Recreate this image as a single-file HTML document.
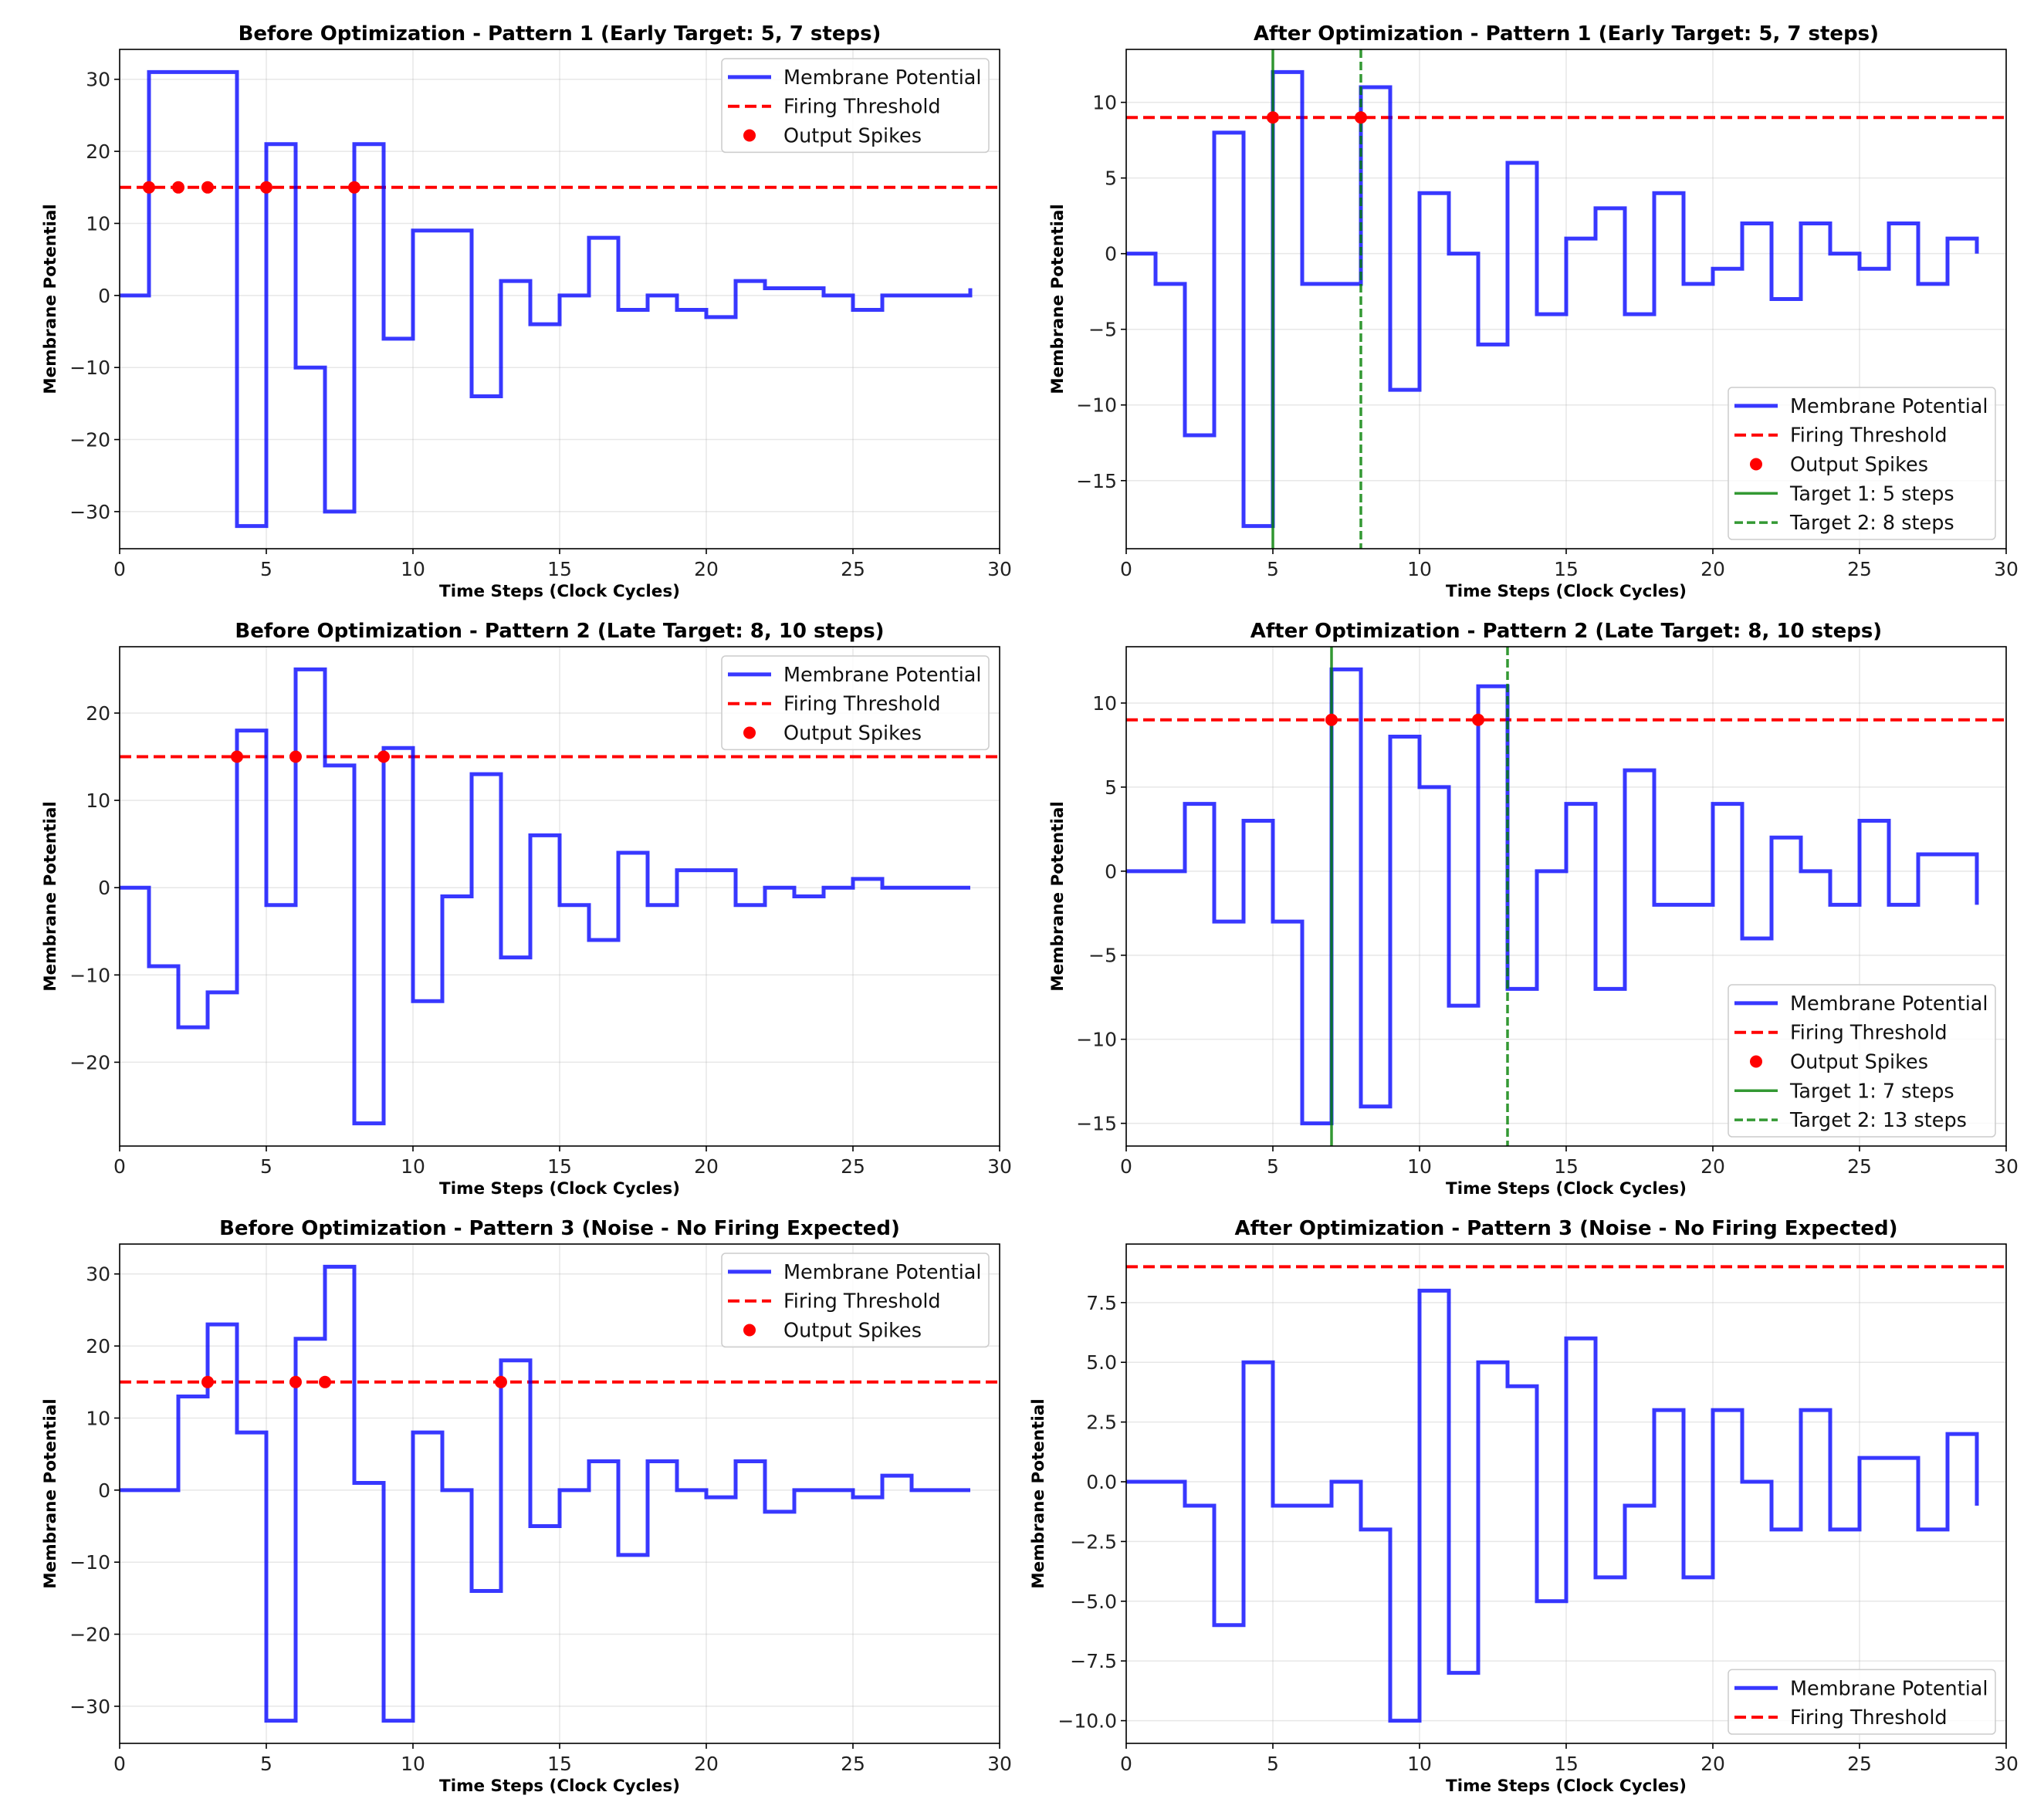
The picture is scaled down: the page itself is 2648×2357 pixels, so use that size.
<!DOCTYPE html>
<html><head><meta charset="utf-8"><style>
html,body{margin:0;padding:0;background:#fff}
svg{display:block;font-family:"DejaVu Sans","Liberation Sans",sans-serif}
</style></head><body>
<svg id="fig" width="2648" height="2357" viewBox="0 0 2648 2357" xmlns="http://www.w3.org/2000/svg"></svg>
<script>
const timeSteps = [...Array(30).keys()];
const p1Before = [0,31,31,31,-32,21,-10,-30,21,-6,9,9,-14,2,-4,0,8,-2,0,-2,-3,2,1,1,0,-2,0,0,0,1];
const p1After  = [0,-2,-12,8,-18,12,-2,-2,11,-9,4,0,-6,6,-4,1,3,-4,4,-2,-1,2,-3,2,0,-1,2,-2,1,0];
const p2Before = [0,-9,-16,-12,18,-2,25,14,-27,16,-13,-1,13,-8,6,-2,-6,4,-2,2,2,-2,0,-1,0,1,0,0,0,0];
const p2After  = [0,0,4,-3,3,-3,-15,12,-14,8,5,-8,11,-7,0,4,-7,6,-2,-2,4,-4,2,0,-2,3,-2,1,1,-2];
const p3Before = [0,0,13,23,8,-32,21,31,1,-32,8,0,-14,18,-5,0,4,-9,4,0,-1,4,-3,0,0,-1,2,0,0,0];
const p3After  = [0,0,-1,-6,5,-1,-1,0,-2,-10,8,-8,5,4,-5,6,-4,-1,3,-4,3,0,-2,3,-2,1,1,-2,2,-1];
const spikes1B = [1,2,3,5,8];
const spikes1A = [5,8];
const spikes2B = [4,6,9];
const spikes2A = [7,12];
const spikes3B = [3,6,7,13];
const spikes3A = [];
const targets1 = [5,8];
const targets2 = [7,13];
const thresholdsBefore = 15;
const thresholdsAfter = 9;
const yTicks1 = [-30,-20,-10,0,10,20,30];
const yTicks2 = [-15,-10,-5,0,5,10];
const yTicks3 = [-20,-10,0,10,20];
const yTicks6 = [-10,-7.5,-5,-2.5,0,2.5,5,7.5];
const xTicks = [0,5,10,15,20,25,30];

const NS="http://www.w3.org/2000/svg";
const svg=document.getElementById('fig');
function mk(tag,attrs,parent){const e=document.createElementNS(NS,tag);for(const k in attrs)e.setAttribute(k,attrs[k]);(parent||svg).appendChild(e);return e;}
function fmt(v,dec){let s=dec?v.toFixed(1):String(v);return s.replace('-','\u2212');}

const panels=[
 {title:"Before Optimization - Pattern 1 (Early Target: 5, 7 steps)",vals:p1Before,sp:spikes1B,th:thresholdsBefore,yt:yTicks1,tg:null,col:0,row:0,leg:'top',ylx:65},
 {title:"After Optimization - Pattern 1 (Early Target: 5, 7 steps)",vals:p1After,sp:spikes1A,th:thresholdsAfter,yt:yTicks2,tg:targets1,col:1,row:0,leg:'bottom',ylx:1370},
 {title:"Before Optimization - Pattern 2 (Late Target: 8, 10 steps)",vals:p2Before,sp:spikes2B,th:thresholdsBefore,yt:yTicks3,tg:null,col:0,row:1,leg:'top',ylx:65},
 {title:"After Optimization - Pattern 2 (Late Target: 8, 10 steps)",vals:p2After,sp:spikes2A,th:thresholdsAfter,yt:yTicks2,tg:targets2,col:1,row:1,leg:'bottom',ylx:1370},
 {title:"Before Optimization - Pattern 3 (Noise - No Firing Expected)",vals:p3Before,sp:spikes3B,th:thresholdsBefore,yt:yTicks1,tg:null,col:0,row:2,leg:'top',ylx:65},
 {title:"After Optimization - Pattern 3 (Noise - No Firing Expected)",vals:p3After,sp:spikes3A,th:thresholdsAfter,yt:yTicks6,tg:null,col:1,row:2,leg:'bottom',ylx:1345,dec:true,noSpikeLeg:true}
];
const colL=[155,1459], W=1140, rowT=[64,838,1612], H=647;
const BLUE="rgba(0,0,255,0.78)", GREEN="rgba(0,128,0,0.8)";

panels.forEach((p,i)=>{
 const L=colL[p.col], T=rowT[p.row];
 const g=mk('g',{});  
 let mn=Math.min(...p.vals,p.th), mx=Math.max(...p.vals,p.th);
 const m=(mx-mn)*0.05; const y0=mn-m, y1=mx+m;
 const X=v=>L+v/30*W, Y=v=>T+H-(v-y0)/(y1-y0)*H;
 xTicks.forEach(t=>{const l=mk('line',{x1:X(t),x2:X(t),y1:T,y2:T+H,stroke:'#b0b0b0','stroke-opacity':0.3,'stroke-width':1.5},g);});
 p.yt.forEach(t=>{const l=mk('line',{x1:L,x2:L+W,y1:Y(t),y2:Y(t),stroke:'#b0b0b0','stroke-opacity':0.3,'stroke-width':1.5},g);});
 const th=mk('line',{x1:L,x2:L+W,y1:Y(p.th),y2:Y(p.th),stroke:'#ff0000','stroke-width':4,'stroke-dasharray':'15,7'},g);
 
 let d='';
 p.vals.forEach((v,k)=>{ if(k===0) d+='M'+X(timeSteps[k])+','+Y(v); else d+=' L'+X(timeSteps[k])+','+Y(p.vals[k-1])+' L'+X(timeSteps[k])+','+Y(v); });
 const pl=mk('path',{d:d,fill:'none',stroke:BLUE,'stroke-width':5,'stroke-linejoin':'miter'},g);
 
 if(p.tg){
  const a=mk('line',{x1:X(p.tg[0]),x2:X(p.tg[0]),y1:T,y2:T+H,stroke:GREEN,'stroke-width':3.5},g);
  
  const b=mk('line',{x1:X(p.tg[1]),x2:X(p.tg[1]),y1:T,y2:T+H,stroke:GREEN,'stroke-width':3.5,'stroke-dasharray':'11,5'},g);
  
 }
 p.sp.forEach(s=>{const c=mk('circle',{cx:X(s),cy:Y(p.th),r:8,fill:'#ff0000'},g);});
 const fr=mk('rect',{x:L,y:T,width:W,height:H,fill:'none',stroke:'#000','stroke-width':1.6},g);
 
 xTicks.forEach(t=>{mk('line',{x1:X(t),x2:X(t),y1:T+H,y2:T+H+7,stroke:'#000','stroke-width':1.6},g);
  const tx=mk('text',{x:X(t),y:T+H+35,'font-size':25,'text-anchor':'middle',fill:'#222'},g);tx.textContent=fmt(t);
  });
 p.yt.forEach(t=>{mk('line',{x1:L-7,x2:L,y1:Y(t),y2:Y(t),stroke:'#000','stroke-width':1.6},g);
  const tx=mk('text',{x:L-12,y:Y(t)+9,'font-size':25,'text-anchor':'end',fill:'#222'},g);tx.textContent=fmt(t,p.dec);
  });
 const tt=mk('text',{x:L+W/2,y:T-12,'font-size':26,'font-weight':'bold','text-anchor':'middle'},g);tt.textContent=p.title;
 
 const xl=mk('text',{x:L+W/2,y:T+H+62,'font-size':21.5,'font-weight':'bold','text-anchor':'middle'},g);xl.textContent="Time Steps (Clock Cycles)";
 
 const yl=mk('text',{x:0,y:0,'font-size':21.5,'font-weight':'bold','text-anchor':'middle',transform:`translate(${p.ylx+7},${T+H/2}) rotate(-90)`},g);yl.textContent="Membrane Potential";
 
 const items=[{n:'Membrane Potential',t:'line'},{n:'Firing Threshold',t:'dash'}];
 if(!p.noSpikeLeg) items.push({n:'Output Spikes',t:'dot'});
 if(p.tg){items.push({n:'Target 1: '+p.tg[0]+' steps',t:'g'});items.push({n:'Target 2: '+p.tg[1]+' steps',t:'gd'});}
 const bw=346, rh=37.8, bh=items.length*rh+8;
 const bx=L+W-14-bw, by=p.leg==='top'?T+12:T+H-12-bh;
 const lg=mk('g',{},g);
 mk('rect',{x:bx,y:by,width:bw,height:bh,rx:5,fill:'#fff','fill-opacity':0.8,stroke:'#ccc','stroke-width':1.5},lg);
 items.forEach((it,k)=>{
  const cy=by+4+rh*(k+0.5)+1, hx=bx+8;
  if(it.t==='line') mk('line',{x1:hx,x2:hx+56,y1:cy,y2:cy,stroke:BLUE,'stroke-width':5},lg);
  if(it.t==='dash') mk('line',{x1:hx,x2:hx+56,y1:cy,y2:cy,stroke:'#f00','stroke-width':4,'stroke-dasharray':'15,7'},lg);
  if(it.t==='dot') mk('circle',{cx:hx+28,cy:cy,r:8,fill:'#f00'},lg);
  if(it.t==='g') mk('line',{x1:hx,x2:hx+56,y1:cy,y2:cy,stroke:GREEN,'stroke-width':3.5},lg);
  if(it.t==='gd') mk('line',{x1:hx,x2:hx+56,y1:cy,y2:cy,stroke:GREEN,'stroke-width':3.5,'stroke-dasharray':'11,5'},lg);
  const tx=mk('text',{x:bx+80,y:cy+9,'font-size':25.5,fill:'#111'},lg);tx.textContent=it.n;
  
 });
});
</script>
</body></html>
